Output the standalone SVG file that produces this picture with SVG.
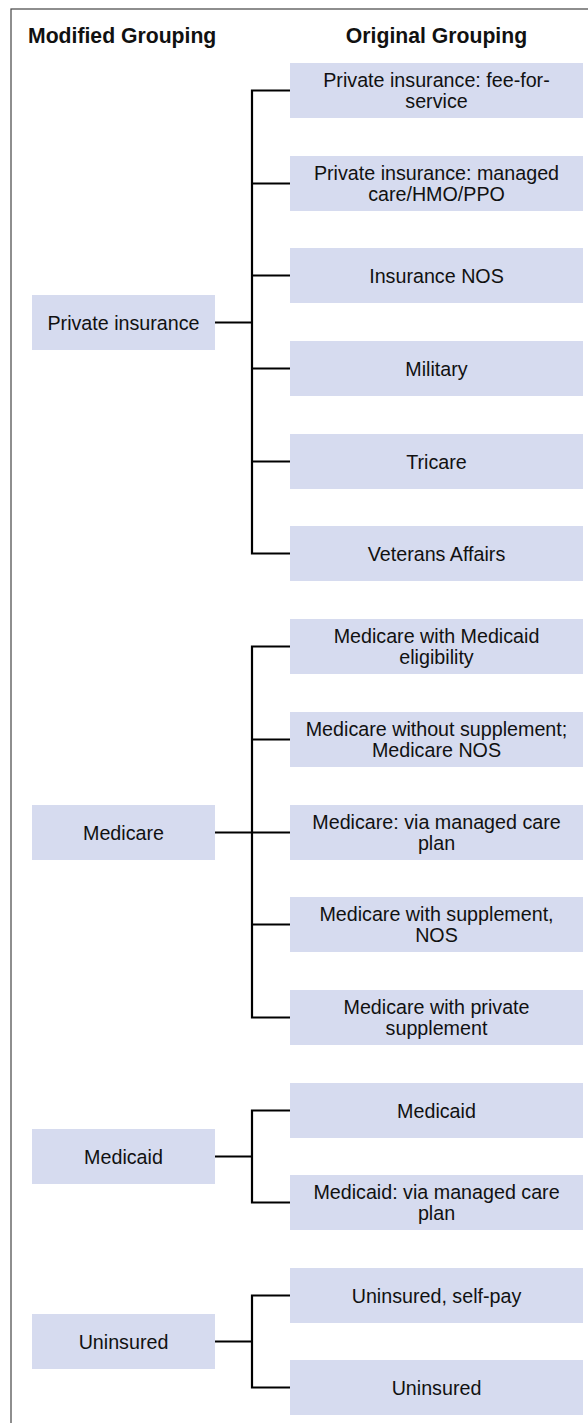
<svg xmlns="http://www.w3.org/2000/svg" width="588" height="1423" viewBox="0 0 588 1423">
<style>
.bx{fill:#d6dbef}
.t{font-family:"Liberation Sans",Arial,sans-serif;font-size:19.7px;fill:#111;text-anchor:middle}
.h{font-family:"Liberation Sans",Arial,sans-serif;font-size:21.2px;font-weight:bold;fill:#111}
.c{fill:none;stroke:#000;stroke-width:2.2;stroke-linejoin:miter}
</style>
<rect x="11" y="9" width="640" height="1500" fill="none" stroke="#444" stroke-width="1.2"/>
<text class="h" x="28" y="43">Modified Grouping</text>
<text class="h" x="436.5" y="43" text-anchor="middle">Original Grouping</text>
<g id="connectors">
<path class="c" d="M290,90.5 H252 V553.5 H290 M252,183.5 H290 M252,275.5 H290 M252,368.5 H290 M252,461.5 H290 M215,322.5 H252"/>
<path class="c" d="M290,646.5 H252 V1017.5 H290 M252,739.5 H290 M252,832.5 H290 M252,924.5 H290 M215,832.5 H252"/>
<path class="c" d="M290,1110.5 H252 V1202.5 H290 M215,1156.5 H252"/>
<path class="c" d="M290,1295.5 H252 V1387.5 H290 M215,1341.5 H252"/>
</g>
<g id="m-private"><rect class="bx" x="32" y="295" width="183" height="55"/><text class="t" x="123.5" y="329.5">Private insurance</text></g>
<g id="m-medicare"><rect class="bx" x="32" y="805" width="183" height="55"/><text class="t" x="123.5" y="839.5">Medicare</text></g>
<g id="m-medicaid"><rect class="bx" x="32" y="1129" width="183" height="55"/><text class="t" x="123.5" y="1163.5">Medicaid</text></g>
<g id="m-uninsured"><rect class="bx" x="32" y="1314" width="183" height="55"/><text class="t" x="123.5" y="1348.5">Uninsured</text></g>
<g id="o1"><rect class="bx" x="290" y="63" width="293" height="55"/><text class="t" x="436.5" y="86.5">Private insurance: fee-for-</text><text class="t" x="436.5" y="107.5">service</text></g>
<g id="o2"><rect class="bx" x="290" y="156" width="293" height="55"/><text class="t" x="436.5" y="179.5">Private insurance: managed</text><text class="t" x="436.5" y="200.5">care/HMO/PPO</text></g>
<g id="o3"><rect class="bx" x="290" y="248" width="293" height="55"/><text class="t" x="436.5" y="282.5">Insurance NOS</text></g>
<g id="o4"><rect class="bx" x="290" y="341" width="293" height="55"/><text class="t" x="436.5" y="375.5">Military</text></g>
<g id="o5"><rect class="bx" x="290" y="434" width="293" height="55"/><text class="t" x="436.5" y="468.5">Tricare</text></g>
<g id="o6"><rect class="bx" x="290" y="526" width="293" height="55"/><text class="t" x="436.5" y="560.5">Veterans Affairs</text></g>
<g id="o7"><rect class="bx" x="290" y="619" width="293" height="55"/><text class="t" x="436.5" y="642.5">Medicare with Medicaid</text><text class="t" x="436.5" y="663.5">eligibility</text></g>
<g id="o8"><rect class="bx" x="290" y="712" width="293" height="55"/><text class="t" x="436.5" y="735.5">Medicare without supplement;</text><text class="t" x="436.5" y="756.5">Medicare NOS</text></g>
<g id="o9"><rect class="bx" x="290" y="805" width="293" height="55"/><text class="t" x="436.5" y="828.5">Medicare: via managed care</text><text class="t" x="436.5" y="849.5">plan</text></g>
<g id="o10"><rect class="bx" x="290" y="897" width="293" height="55"/><text class="t" x="436.5" y="920.5">Medicare with supplement,</text><text class="t" x="436.5" y="941.5">NOS</text></g>
<g id="o11"><rect class="bx" x="290" y="990" width="293" height="55"/><text class="t" x="436.5" y="1013.5">Medicare with private</text><text class="t" x="436.5" y="1034.5">supplement</text></g>
<g id="o12"><rect class="bx" x="290" y="1083" width="293" height="55"/><text class="t" x="436.5" y="1117.5">Medicaid</text></g>
<g id="o13"><rect class="bx" x="290" y="1175" width="293" height="55"/><text class="t" x="436.5" y="1198.5">Medicaid: via managed care</text><text class="t" x="436.5" y="1219.5">plan</text></g>
<g id="o14"><rect class="bx" x="290" y="1268" width="293" height="55"/><text class="t" x="436.5" y="1302.5">Uninsured, self-pay</text></g>
<g id="o15"><rect class="bx" x="290" y="1360" width="293" height="55"/><text class="t" x="436.5" y="1394.5">Uninsured</text></g>
</svg>
